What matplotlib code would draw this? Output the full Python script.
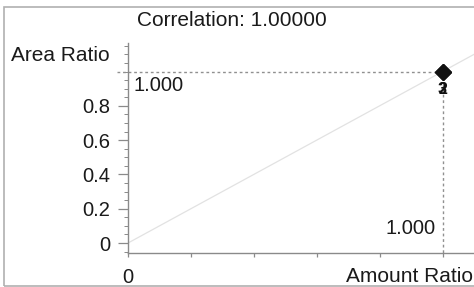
import matplotlib
matplotlib.use("Agg")
import matplotlib.pyplot as plt
from matplotlib.patches import Rectangle
from matplotlib.ticker import MultipleLocator, FixedLocator

plt.rcParams["font.family"] = ["Liberation Sans", "DejaVu Sans"]

# calibration points (amount ratio vs area ratio)
amount_ratio = [1.0, 1.0]
area_ratio = [1.0, 1.0]
point_labels = ["2", "3"]
correlation = 1.0
slope, intercept = 1.0, 0.0
y_ticks = [0, 0.2, 0.4, 0.6, 0.8]
y_tick_labels = ["0", "0.2", "0.4", "0.6", "0.8"]
x_ticks = [0, 0.2, 0.4, 0.6, 0.8, 1.0]
x_tick_labels = ["0", "", "", "", "", ""]

AX_C = "#8a8a8a"
TXT = "#1a1a1a"

fig = plt.figure(figsize=(4.74, 2.87), dpi=100)
ax = fig.add_axes([0.270, 0.1185, 0.730, 0.7315])
ax.set_xlim(0, 1.1)
ax.set_ylim(-0.058, 1.166)

for s in ["top", "right"]:
    ax.spines[s].set_visible(False)
for s in ["left", "bottom"]:
    ax.spines[s].set_color(AX_C)
    ax.spines[s].set_linewidth(1.0)

# regression line (very faint)
xs = [0, 1.1]
ax.plot(xs, [slope * v + intercept for v in xs], color="#e2e2e2", lw=0.9, zorder=1)

# dashed reference lines to the point
px, py = amount_ratio[-1], area_ratio[-1]
ax.plot([-0.035, px], [py, py], color="#909090", lw=1.0, ls=(0, (2, 2)),
        clip_on=False, zorder=2)
ax.plot([px, px], [py, -0.062], color="#909090", lw=1.0, ls=(0, (2, 2)),
        clip_on=False, zorder=2)

ax.plot(amount_ratio, area_ratio, ls="none", marker="D", ms=8,
        color="#111111", zorder=4)
for xv, yv, lab in zip(amount_ratio, area_ratio, point_labels):
    ax.annotate(lab, (xv, yv), textcoords="offset points", xytext=(0, -13),
                ha="center", va="center", fontsize=11.5, fontweight="bold",
                color="#111111")

ax.text(0.016, 0.92, f"{py:.3f}", fontsize=14.5, color=TXT, ha="left", va="center")
ax.text(0.979, 0.082, f"{px:.3f}", fontsize=14.5, color=TXT, ha="right", va="center")

ax.yaxis.set_major_locator(FixedLocator(y_ticks))
ax.set_yticklabels(y_tick_labels)
ax.yaxis.set_minor_locator(MultipleLocator(0.05))
ax.xaxis.set_major_locator(FixedLocator(x_ticks))
ax.set_xticklabels(x_tick_labels)
ax.tick_params(axis="y", which="major", length=7.2, width=0.9, color=AX_C,
               labelsize=14.5, labelcolor=TXT, pad=5.8)
ax.tick_params(axis="y", which="minor", length=3, width=0.7, color=AX_C)
ax.tick_params(axis="x", which="major", length=3, width=0.9, color=AX_C,
               labelsize=14.5, labelcolor=TXT, pad=8)

fig.text(0.489, 0.930, f"Correlation: {correlation:.5f}", fontsize=15,
         color=TXT, ha="center", va="center")
fig.text(0.232, 0.808, "Area Ratio", fontsize=15, color=TXT, ha="right", va="center")
fig.text(0.730, 0.035, "Amount Ratio", fontsize=15, color=TXT, ha="left", va="center")

fig.patches.append(Rectangle((4 / 474, 1 / 287), 1.2, 1 - 8 / 287,
                             transform=fig.transFigure, fill=False,
                             edgecolor="#b0b0b0", lw=1.2))

fig.savefig("out.png", dpi=100)
